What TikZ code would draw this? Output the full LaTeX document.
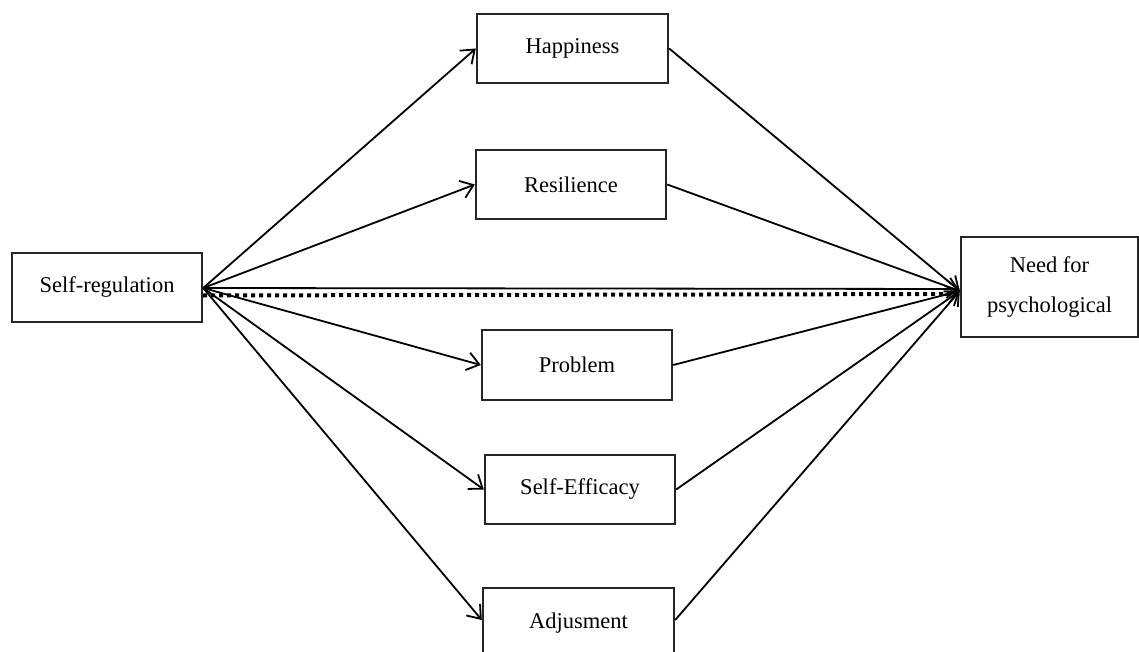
\documentclass[tikz,border=0pt]{standalone}
\usepackage{fontspec}
\setmainfont{Liberation Serif}
\usetikzlibrary{arrows.meta}
\begin{document}
\begin{tikzpicture}[x=1pt,y=-1pt,
  box/.style={draw=black!85, line width=2.4pt, fill=white, minimum height=69pt, minimum width=190pt, inner sep=0pt, font=\fontsize{22.5}{40}\selectfont, align=center},
  link/.style={line width=1.8pt, -{Straight Barb[length=12pt,width=18pt,line width=1.8pt]}}
]
\useasboundingbox (0,0) rectangle (1139,652);
\clip (0,0) rectangle (1139,652);
\node[box] (sr) at (107,287.5) {Self-regulation};
\node[box, minimum width=191pt] (hap) at (572.5,48.5) {Happiness};
\node[box] (res) at (571,184.5) {Resilience};
\node[box, minimum height=70pt] (prob) at (577,365) {Problem};
\node[box] (eff) at (580,489.5) {Self-Efficacy};
\node[box, minimum width=191pt, minimum height=70pt] (adj) at (578.5,623) {Adjusment};
\node[box, minimum width=177pt, minimum height=100pt] (need) at (1049.5,287) {Need for\\psychological};
\coordinate (o) at ([yshift=-0.5pt]sr.east);
\coordinate (t) at ([yshift=-4pt]need.west);
% input paths
\draw[link] (o) -- (hap.west);
\draw[link] (o) -- (res.west);
\draw[link] (o) -- (prob.west);
\draw[link] (o) -- (eff.west);
\draw[link] (o) -- ([yshift=3pt]adj.west);
% output paths
\draw[link] (hap.east) -- (t);
\draw[link] (res.east) -- (t);
\draw[link] (prob.east) -- (t);
\draw[link] (eff.east) -- (t);
\draw[link] ([yshift=3pt]adj.east) -- (t);
% direct paths
\draw[link] (o) -- ([yshift=2pt]t);
\draw[line width=4pt, dash pattern=on 4pt off 4pt] ([yshift=-7.5pt]o) -- ([yshift=-3pt,xshift=-4pt]t);
\end{tikzpicture}
\end{document}
